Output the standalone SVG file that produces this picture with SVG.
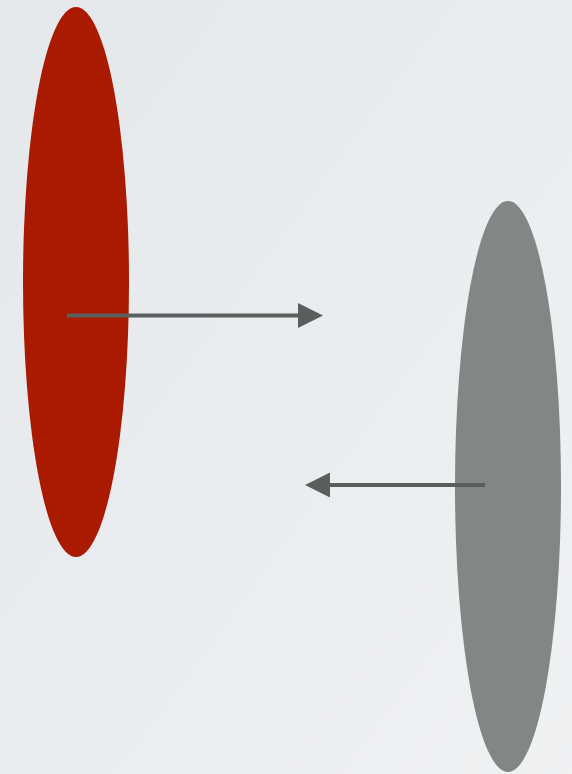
<svg xmlns="http://www.w3.org/2000/svg" width="572" height="774" viewBox="0 0 572 774">
  <defs>
    <linearGradient id="bg" x1="0" y1="0" x2="1" y2="1">
      <stop offset="0" stop-color="#e5e8eb"/>
      <stop offset="1" stop-color="#eff1f3"/>
    </linearGradient>
    <marker id="ah" markerWidth="26" markerHeight="26" refX="1" refY="12.5" orient="auto" markerUnits="userSpaceOnUse">
      <path d="M0,0 L25,12.5 L0,25 Z" fill="#5a5f5e"/>
    </marker>
    <style>
      .conn { stroke: #5a5f5e; stroke-width: 4; fill: none; }
    </style>
  </defs>
  <rect width="572" height="774" fill="url(#bg)"/>
  <g id="node-red">
    <ellipse cx="76" cy="282" rx="53" ry="275" fill="#aa1a00"/>
  </g>
  <g id="node-gray">
    <ellipse cx="508" cy="486.5" rx="53" ry="285.5" fill="#818784"/>
  </g>
  <g id="connectors">
    <line class="conn" x1="67" y1="315.5" x2="299" y2="315.5" marker-end="url(#ah)"/>
    <line class="conn" x1="485" y1="485" x2="329" y2="485" marker-end="url(#ah)"/>
  </g>
</svg>
